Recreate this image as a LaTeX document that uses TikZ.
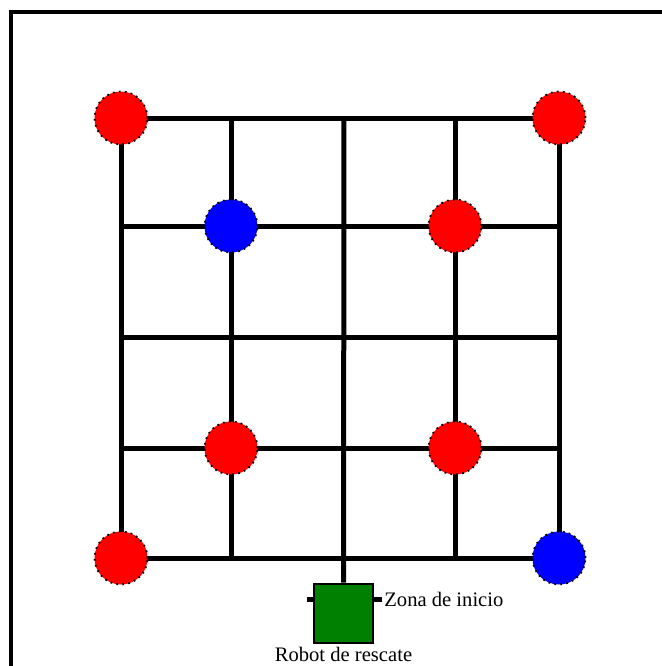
\documentclass[tikz,border=0pt]{standalone}
\usepackage{fontspec}
\setmainfont{Liberation Serif}
\begin{document}
\begin{tikzpicture}[x=0.5pt,y=-0.5pt,
  track/.style={line width=2.5pt},
  victim/.style={circle,draw=black,line width=0.9pt,dash pattern=on 0.9pt off 2.1pt,
    minimum size=26.5pt,inner sep=0pt},
  robotbox/.style={draw=black,line width=1.3pt,fill=green!50!black,
    minimum size=29.5pt,inner sep=0pt},
  lbl/.style={font=\fontsize{10.3}{12}\selectfont,inner sep=1pt}]
\clip (0,0) rectangle (662,666);
\draw[line width=2.2pt] (11,12) rectangle (700,700);
\foreach \c/\x in {a/121,b/231,c/344,d/455,e/559}
  \foreach \r/\y in {1/118,2/226,3/337,4/448,5/558}
    \coordinate (\c\r) at (\x,\y);
\node[robotbox] (robot) at (343.5,613.5) {};
\draw[track] (a1) -- (e1);
\draw[track] (a2) -- (e2);
\draw[track] (a3) -- (e3);
\draw[track] (a4) -- (e4);
\draw[track] (a5) -- (e5);
\draw[track] (a1) -- (a5);
\draw[track] (b1) -- (b5);
\draw[track] (c1) -- (robot.north);
\draw[track] (d1) -- (d5);
\draw[track] (e1) -- (e5);
\coordinate (tl) at (307,599);
\coordinate (tr) at (382,599);
\draw[track] (tl) -- (robot.west |- tl);
\draw[track] (robot.east |- tr) -- (tr);
\node[victim,fill=red] (v1) at (a1) {};
\node[victim,fill=red] (v2) at (e1) {};
\node[victim,fill=blue] (v3) at (b2) {};
\node[victim,fill=red] (v4) at (d2) {};
\node[victim,fill=red] (v5) at (b4) {};
\node[victim,fill=red] (v6) at (d4) {};
\node[victim,fill=red] (v7) at (a5) {};
\node[victim,fill=blue] (v8) at (e5) {};
\node[lbl,anchor=west] (zona) at (tr) {Zona de inicio};
\node[lbl] (rescate) at (343.5,654) {Robot de rescate};
\end{tikzpicture}
\end{document}
